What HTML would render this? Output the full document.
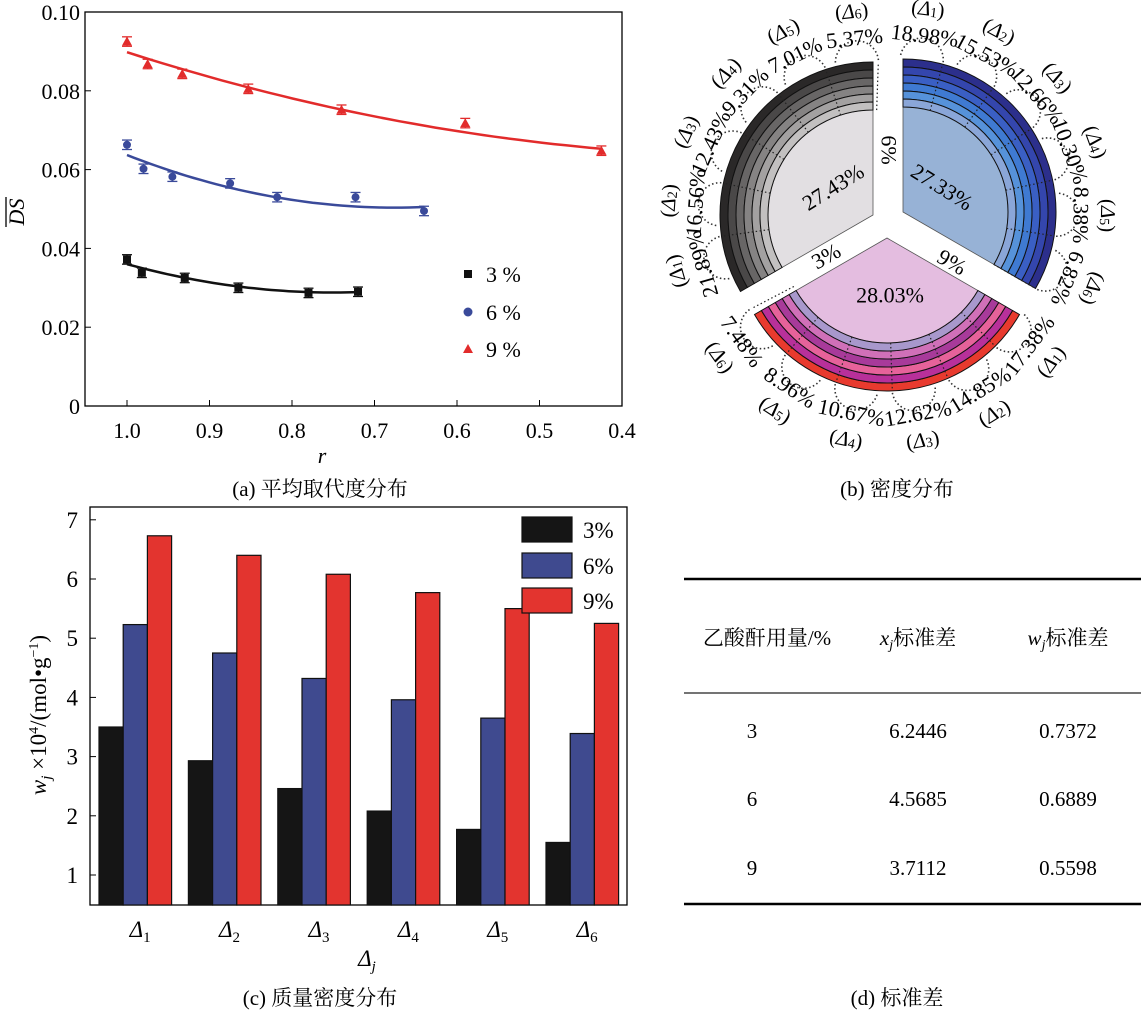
<!DOCTYPE html>
<html><head><meta charset="utf-8"><style>
html,body{margin:0;padding:0;background:#fff;}
text{font-family:"Liberation Serif","Noto Serif CJK SC",serif;}
.cap{font-family:"Liberation Serif","Noto Serif CJK SC","Noto Sans CJK SC",serif;font-size:21px;}
</style></head><body>
<svg id="fig" width="1141" height="1012" viewBox="0 0 1141 1012" xmlns="http://www.w3.org/2000/svg" font-family="Liberation Serif, Noto Serif CJK SC, serif">
<g id="pa"></g>
<g id="pb"></g>
<g id="pc"></g>
<g id="pd">
  <line x1="684" y1="579" x2="1141" y2="579" stroke="#000" stroke-width="2.5"/>
  <line x1="684" y1="693" x2="1141" y2="693" stroke="#222" stroke-width="1.2"/>
  <line x1="684" y1="904" x2="1141" y2="904" stroke="#000" stroke-width="2.5"/>
  <text x="767" y="645" text-anchor="middle" font-size="21">乙酸酐用量/%</text>
  <text x="918" y="645" text-anchor="middle" font-size="21"><tspan font-style="italic">x</tspan><tspan font-style="italic" font-size="14" dy="4">j</tspan><tspan dy="-4">标准差</tspan></text>
  <text x="1068" y="645" text-anchor="middle" font-size="21"><tspan font-style="italic">w</tspan><tspan font-style="italic" font-size="14" dy="4">j</tspan><tspan dy="-4">标准差</tspan></text>
  <g font-size="21" text-anchor="middle">
    <text x="752" y="738">3</text>
    <text x="918" y="738">6.2446</text>
    <text x="1068" y="738">0.7372</text>
    <text x="752" y="806">6</text>
    <text x="918" y="806">4.5685</text>
    <text x="1068" y="806">0.6889</text>
    <text x="752" y="875">9</text>
    <text x="918" y="875">3.7112</text>
    <text x="1068" y="875">0.5598</text>
  </g>
</g>
<text class="cap" x="320" y="496" text-anchor="middle">(a) 平均取代度分布</text>
<text class="cap" x="897" y="496" text-anchor="middle">(b) 密度分布</text>
<text class="cap" x="320" y="1005" text-anchor="middle">(c) 质量密度分布</text>
<text class="cap" x="897" y="1005" text-anchor="middle">(d) 标准差</text>
</svg>
<script>
const NS='http://www.w3.org/2000/svg';
function mk(tag,attrs,parent){const e=document.createElementNS(NS,tag);for(const k in attrs)e.setAttribute(k,attrs[k]);parent.appendChild(e);return e;}

/* ---------- Panel A data ---------- */
const aXTicks=[1.0,0.9,0.8,0.7,0.6,0.5,0.4];
const aYTicks=[0,0.02,0.04,0.06,0.08,0.10];
const aYTickLabels=['0','0.02','0.04','0.06','0.08','0.10'];
const r3=[1.0,0.982,0.93,0.865,0.78,0.72];
const ds3=[0.0372,0.0338,0.0325,0.0300,0.0287,0.0290];
const r6=[1.0,0.98,0.945,0.875,0.818,0.723,0.64];
const ds6=[0.0663,0.0602,0.0582,0.0565,0.0530,0.0530,0.0495];
const r9=[1.0,0.975,0.933,0.853,0.74,0.59,0.425];
const ds9=[0.0925,0.0868,0.0843,0.0805,0.0752,0.0718,0.0648];
const fit3R=[1.0,0.86,0.72], fit3V=[0.0360,0.0302,0.0289];
const fit6R=[1.0,0.82,0.64], fit6V=[0.0637,0.0530,0.0505];
const fit9R=[1.0,0.70,0.425], fit9V=[0.0898,0.0735,0.0653];
const aErr=0.0012;

(function(){
  const g=document.getElementById('pa');
  const L=85,R=622,T=12,B=406;
  const xs=r=>127+(1.0-r)/0.6*(622-127);
  const ys=v=>B-(v/0.10)*(B-T);
  const box=mk('rect',{x:L,y:T,width:R-L,height:B-T,fill:'none',stroke:'#000','stroke-width':1.3},g);
  
  
  aXTicks.forEach(t=>{
    const x=xs(t);
    mk('line',{x1:x,y1:B,x2:x,y2:B-6,stroke:'#000'},g);
    const tx=mk('text',{x:x,y:B+32,'text-anchor':'middle','font-size':22},g);
    tx.textContent=t.toFixed(1);
    
    
  });
  aYTicks.forEach((t,i)=>{
    const y=ys(t);
    mk('line',{x1:L,y1:y,x2:L+6,y2:y,stroke:'#000'},g);
    const tx=mk('text',{x:L-5,y:y+8,'text-anchor':'end','font-size':22},g);
    tx.textContent=aYTickLabels[i];
    
    
  });
  const yl=mk('text',{x:0,y:0,'font-size':22,'font-style':'italic','text-anchor':'middle',transform:'translate(24,212) rotate(-90)'},g);
  yl.textContent='DS';
  
  
  const ov=mk('line',{x1:6,y1:197,x2:6,y2:227,stroke:'#000','stroke-width':1.3},g);
  
  
  const xl=mk('text',{x:322,y:463,'font-size':22,'font-style':'italic','text-anchor':'middle'},g);
  xl.textContent='r';
  
  

  function quad(X,V,r){let s=0;for(let i=0;i<3;i++){let p=V[i];for(let j=0;j<3;j++)if(j!==i)p*=(r-X[j])/(X[i]-X[j]);s+=p;}return s;}
  function series(R_,D,FX,FV,color,shape,name){
    const sg=mk('g',{},g);
    
    
    let d='';const n=40;
    for(let i=0;i<=n;i++){const r=FX[0]+(FX[2]-FX[0])*i/n;d+=(i?'L':'M')+xs(r).toFixed(1)+' '+ys(quad(FX,FV,r)).toFixed(1);}
    const fl=mk('path',{d:d,fill:'none',stroke:color,'stroke-width':2.5},sg);
    
    
    R_.forEach((r,i)=>{
      const x=xs(r),y=ys(D[i]),y1=ys(D[i]+aErr),y2=ys(D[i]-aErr);
      mk('line',{x1:x,y1:y1,x2:x,y2:y2,stroke:color,'stroke-width':1.3},sg);
      mk('line',{x1:x-5,y1:y1,x2:x+5,y2:y1,stroke:color,'stroke-width':1.3},sg);
      mk('line',{x1:x-5,y1:y2,x2:x+5,y2:y2,stroke:color,'stroke-width':1.3},sg);
      let m;
      if(shape==='sq')m=mk('rect',{x:x-4,y:y-4,width:8,height:8,fill:color},sg);
      else if(shape==='ci')m=mk('circle',{cx:x,cy:y,r:4,fill:color},sg);
      else m=mk('path',{d:`M${x} ${y-5}L${x+5} ${y+4}L${x-5} ${y+4}Z`,fill:color},sg);
      
      
    });
  }
  series(r3,ds3,fit3R,fit3V,'#111','sq','3pct');
  series(r6,ds6,fit6R,fit6V,'#3a4a9a','ci','6pct');
  series(r9,ds9,fit9R,fit9V,'#e22b2b','tr','9pct');
  const leg=[['3 %','#111','sq',274],['6 %','#3a4a9a','ci',312],['9 %','#e22b2b','tr',349]];
  leg.forEach(l=>{
    const lg=mk('g',{},g);
    
    
    const x=468,y=l[3];
    if(l[2]==='sq')mk('rect',{x:x-4,y:y-4,width:8,height:8,fill:l[1]},lg);
    else if(l[2]==='ci')mk('circle',{cx:x,cy:y,r:4.5,fill:l[1]},lg);
    else mk('path',{d:`M${x} ${y-5}L${x+5} ${y+4}L${x-5} ${y+4}Z`,fill:l[1]},lg);
    const t=mk('text',{x:486,y:y+8,'font-size':22},lg);t.textContent=l[0];
  });
})();

/* ---------- Panel B data ---------- */
const grayPct=['21.89%','16.56%','12.43%','9.31%','7.01%','5.37%'];
const bluePct=['18.98%','15.53%','12.66%','10.30%','8.38%','6.82%'];
const pinkPct=['17.38%','14.85%','12.62%','10.67%','8.96%','7.48%'];
const innerPct=['27.43%','27.33%','28.03%'];
(function(){
  const g=document.getElementById('pb');
  const R0=105,RW=8;
  const sectors=[
    {name:'3pct',cx:873,cy:215,a1:90,a2:210,inner:'#e2dfe2',rings:['#2a2828','#4a4848','#686666','#858383','#a3a1a1','#c2c0c0'],pct:grayPct,th0:196,step:-20,rot:t=>90-t},
    {name:'6pct',cx:903,cy:212,a1:-30,a2:90,inner:'#97b2d6',rings:['#2c2f8c','#3446ad','#3a5fc4','#3f7ad2','#5692da','#8aa6d8'],pct:bluePct,th0:83,step:-21,rot:t=>90-t},
    {name:'9pct',cx:887,cy:238,a1:210,a2:330,inner:'#e4bde0',rings:['#e83a2e','#b8309a','#e6629a','#a83a9a','#d070b8','#a898cc'],pct:pinkPct,th0:-37,step:-21.5,rot:t=>-(t+90)}
  ];
  const P=(s,r,a)=>[s.cx+r*Math.cos(a*Math.PI/180),s.cy-r*Math.sin(a*Math.PI/180)];
  sectors.forEach((s,si)=>{
    const sg=mk('g',{},g);
    
    
    let o1=P(s,R0,s.a1),o2=P(s,R0,s.a2);
    const inn=mk('path',{d:`M${s.cx} ${s.cy}L${o1[0]} ${o1[1]}A${R0} ${R0} 0 0 0 ${o2[0]} ${o2[1]}Z`,fill:s.inner,stroke:'#555','stroke-width':0.8},sg);
    
    
    for(let k=0;k<6;k++){
      const ri=R0+(5-k)*RW,ro=ri+RW;
      const a=P(s,ro,s.a1),b=P(s,ro,s.a2),c=P(s,ri,s.a2),d=P(s,ri,s.a1);
      const rp=mk('path',{d:`M${a[0]} ${a[1]}A${ro} ${ro} 0 0 0 ${b[0]} ${b[1]}L${c[0]} ${c[1]}A${ri} ${ri} 0 0 1 ${d[0]} ${d[1]}Z`,fill:s.rings[k],stroke:'#111','stroke-width':1},sg);
      
      
    }
    s.pct.forEach((p,i)=>{
      const th=s.th0+s.step*i;
      const b1=P(s,R0+6*RW+2,th-8),b2=P(s,R0+6*RW+2,th+8);
      const chord=Math.hypot(b1[0]-b2[0],b1[1]-b2[1])/2;
      mk('path',{d:`M${b1[0]} ${b1[1]}A${chord} ${chord} 0 0 0 ${b2[0]} ${b2[1]}`,fill:'none',stroke:'#333','stroke-width':1.6,'stroke-dasharray':'1.5 2.5'},sg);
      const q1=P(s,R0,th-8),q2=P(s,R0+6*RW,th-8);
      mk('line',{x1:q1[0],y1:q1[1],x2:q2[0],y2:q2[1],stroke:'#222','stroke-width':1.2,'stroke-dasharray':'1.5 2.5'},sg);
      const tp=P(s,178,th);
      const t=mk('text',{x:0,y:0,'font-size':22,'text-anchor':'middle','dominant-baseline':'central',transform:`translate(${tp[0].toFixed(1)},${tp[1].toFixed(1)}) rotate(${s.rot(th).toFixed(1)})`},sg);
      t.textContent=p;
      
      
      const dp=P(s,205,th);
      const t2=mk('text',{x:0,y:0,'font-size':21,'text-anchor':'middle','dominant-baseline':'central',transform:`translate(${dp[0].toFixed(1)},${dp[1].toFixed(1)}) rotate(${s.rot(th).toFixed(1)})`},sg);
      t2.innerHTML=`(<tspan font-style="italic">Δ</tspan><tspan font-size="14" dy="4">${i+1}</tspan><tspan dy="-4">)</tspan>`;
      
      
    });
  });
  const inl=[[833,187,-32,innerPct[0]],[942,187,32,innerPct[1]],[890,295,0,innerPct[2]],[889,150,90,'6%'],[826,256,-30,'3%'],[952,262,30,'9%']];
  inl.forEach(l=>{
    const t=mk('text',{x:0,y:0,'font-size':22,'text-anchor':'middle','dominant-baseline':'central',transform:`translate(${l[0]},${l[1]}) rotate(${l[2]})`},g);
    t.textContent=l[3];
    
    
  });
})();

/* ---------- Panel C data ---------- */
const cCats=['1','2','3','4','5','6'];
const w3=[3.50,2.93,2.46,2.08,1.77,1.55];
const w6=[5.23,4.75,4.32,3.96,3.65,3.39];
const w9=[6.73,6.40,6.08,5.77,5.50,5.25];
const cYTicks=[1,2,3,4,5,6,7];
(function(){
  const g=document.getElementById('pc');
  const L=90,R=627,T=507,B=905;
  const ys=v=>875-(v-1)*59.2;
  const gx=i=>99+i*89.4;
  const bw=24.2;
  const box=mk('rect',{x:L,y:T,width:R-L,height:B-T,fill:'none',stroke:'#000','stroke-width':1.3},g);
  
  
  cYTicks.forEach(t=>{
    const y=ys(t);
    mk('line',{x1:L,y1:y,x2:L+6,y2:y,stroke:'#000'},g);
    const tx=mk('text',{x:L-12,y:y+8,'text-anchor':'end','font-size':23},g);
    tx.textContent=t;
    
    
  });
  const sers=[[w3,'#151515','3pct'],[w6,'#3f4a8f','6pct'],[w9,'#e3342f','9pct']];
  cCats.forEach((c,i)=>{
    sers.forEach((s,k)=>{
      const x=gx(i)+k*bw,y=ys(s[0][i]);
      const r=mk('rect',{x:x,y:y,width:bw,height:B-y,fill:s[1],stroke:'#111','stroke-width':1.2},g);
      
      
    });
    const t=mk('text',{x:gx(i)+bw*1.7,y:B+32,'font-size':23,'text-anchor':'middle'},g);
    t.innerHTML=`<tspan font-style="italic">Δ</tspan><tspan font-size="15" dy="5">${c}</tspan>`;
    
    
  });
  const xl=mk('text',{x:367,y:966,'font-size':23,'text-anchor':'middle'},g);
  xl.innerHTML='<tspan font-style="italic">Δ</tspan><tspan font-size="15" dy="5" font-style="italic">j</tspan>';
  
  
  const yl=mk('text',{x:0,y:0,'font-size':23,'text-anchor':'middle',transform:'translate(46,715) rotate(-90)'},g);
  yl.innerHTML='<tspan font-style="italic">w</tspan><tspan font-style="italic" font-size="15" dy="5">j</tspan><tspan dy="-5"> ×10</tspan><tspan font-size="14" dy="-8">4</tspan><tspan dy="8">/(mol•g</tspan><tspan font-size="14" dy="-8">−1</tspan><tspan dy="8">)</tspan>';
  
  
  const leg=[['3%','#151515',517],['6%','#3f4a8f',553],['9%','#e3342f',588]];
  leg.forEach(l=>{
    const lg=mk('g',{},g);
    
    
    mk('rect',{x:522,y:l[2],width:50,height:25,fill:l[1],stroke:'#111','stroke-width':1.2},lg);
    const t=mk('text',{x:583,y:l[2]+21,'font-size':23},lg);t.textContent=l[0];
  });
})();
</script>
</body></html>
